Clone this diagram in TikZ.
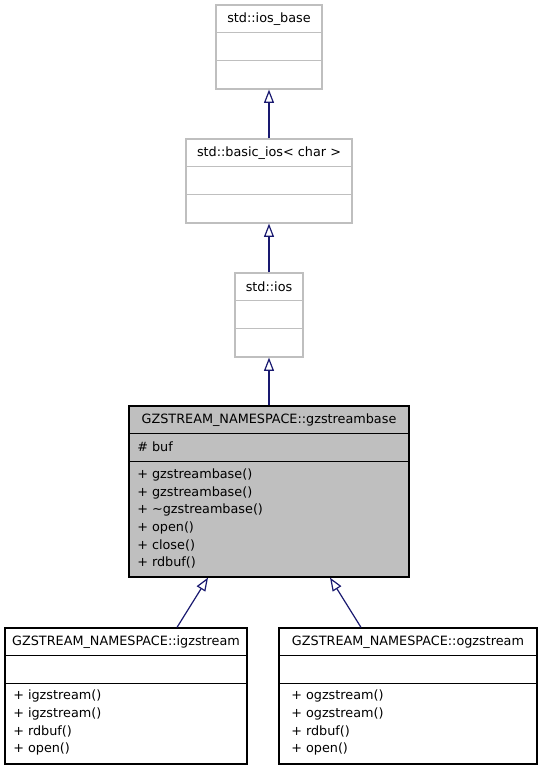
\documentclass[tikz,border=0pt]{standalone}
\usepackage{fontspec}
\setmainfont{DejaVu Sans}
\usetikzlibrary{arrows.meta}
\definecolor{edgeblue}{HTML}{191970}
\definecolor{lgray}{HTML}{BFBFBF}
\definecolor{fillgray}{HTML}{BFBFBF}
\begin{document}
\begin{tikzpicture}[x=0.75pt,y=-0.75pt,
  every node/.style={font=\fontsize{9.6}{11}\selectfont},
  extbox/.style={draw=lgray,fill=white,line width=0.9pt,inner sep=0pt,rectangle},
  mainbox/.style={draw=black,fill=fillgray,line width=0.9pt,inner sep=0pt,rectangle},
  leafbox/.style={draw=black,fill=white,line width=0.9pt,inner sep=0pt,rectangle},
  title/.style={anchor=center,inner sep=0pt},
  member/.style={anchor=west,inner sep=0pt},
  inherit/.style={draw=edgeblue,line width=0.9pt,-{Triangle[open,length=10pt,width=7.5pt]}}
]
\fill[white] (0,0) rectangle (541,771);
\useasboundingbox (0,0) rectangle (541,771);

% std::ios_base
\node[extbox,minimum width=79.5pt,minimum height=63pt] (iosbase) at (269,47) {};
\draw[lgray,line width=0.9pt] ([yshift=-21pt]iosbase.north west) -- ([yshift=-21pt]iosbase.north east);
\draw[lgray,line width=0.9pt] ([yshift=-42pt]iosbase.north west) -- ([yshift=-42pt]iosbase.north east);
\node[title] (tiosbase) at (269,19) {std::ios\_base};

% std::basic_ios< char >
\node[extbox,minimum width=124.5pt,minimum height=63pt] (basicios) at (269,181) {};
\draw[lgray,line width=0.9pt] ([yshift=-21pt]basicios.north west) -- ([yshift=-21pt]basicios.north east);
\draw[lgray,line width=0.9pt] ([yshift=-42pt]basicios.north west) -- ([yshift=-42pt]basicios.north east);
\node[title] (tbasicios) at (269,153) {std::basic\_ios< char >};

% std::ios
\node[extbox,minimum width=51pt,minimum height=63pt] (ios) at (269,315) {};
\draw[lgray,line width=0.9pt] ([yshift=-21pt]ios.north west) -- ([yshift=-21pt]ios.north east);
\draw[lgray,line width=0.9pt] ([yshift=-42pt]ios.north west) -- ([yshift=-42pt]ios.north east);
\node[title] (tios) at (269,287) {std::ios};

% gzstreambase
\node[mainbox,minimum width=210pt,minimum height=128.25pt] (gzb) at (269,491.5) {};
\draw[black,line width=0.9pt] ([yshift=-21pt]gzb.north west) -- ([yshift=-21pt]gzb.north east);
\draw[black,line width=0.9pt] ([yshift=-42pt]gzb.north west) -- ([yshift=-42pt]gzb.north east);
\node[title] (tgzb) at (269,420) {GZSTREAM\_NAMESPACE::gzstreambase};
\node[member] (gzb0) at (137,447) {\# buf};
\node[member] (gzb1) at (137,475) {+ gzstreambase()};
\node[member] (gzb2) at (137,492.5) {+ gzstreambase()};
\node[member] (gzb3) at (137,510) {+ \textasciitilde gzstreambase()};
\node[member] (gzb4) at (137,527.5) {+ open()};
\node[member] (gzb5) at (137,545) {+ close()};
\node[member] (gzb6) at (137,562.5) {+ rdbuf()};

% igzstream
\node[leafbox,minimum width=181.5pt,minimum height=102pt] (igz) at (126,696) {};
\draw[black,line width=0.9pt] ([yshift=-21pt]igz.north west) -- ([yshift=-21pt]igz.north east);
\draw[black,line width=0.9pt] ([yshift=-42pt]igz.north west) -- ([yshift=-42pt]igz.north east);
\node[title] (tigz) at (126,642) {GZSTREAM\_NAMESPACE::igzstream};
\node[member] (igz1) at (13,696) {+ igzstream()};
\node[member] (igz2) at (13,713.5) {+ igzstream()};
\node[member] (igz3) at (13,731) {+ rdbuf()};
\node[member] (igz4) at (13,748.5) {+ open()};

% ogzstream
\node[leafbox,minimum width=193.5pt,minimum height=102pt] (ogz) at (408,696) {};
\draw[black,line width=0.9pt] ([yshift=-21pt]ogz.north west) -- ([yshift=-21pt]ogz.north east);
\draw[black,line width=0.9pt] ([yshift=-42pt]ogz.north west) -- ([yshift=-42pt]ogz.north east);
\node[title] (togz) at (408,642) {GZSTREAM\_NAMESPACE::ogzstream};
\node[member] (ogz1) at (291,696) {+ ogzstream()};
\node[member] (ogz2) at (291,713.5) {+ ogzstream()};
\node[member] (ogz3) at (291,731) {+ rdbuf()};
\node[member] (ogz4) at (291,748.5) {+ open()};

% inheritance edges
\draw[inherit] (basicios.north) -- (iosbase.south);
\draw[inherit] (ios.north) -- (basicios.south);
\draw[inherit] (gzb.north) -- (ios.south);
\draw[inherit] ([xshift=38.25pt]igz.north) -- ([xshift=-45.75pt]gzb.south);
\draw[inherit] ([xshift=-35.25pt]ogz.north) -- ([xshift=45.75pt]gzb.south);
\end{tikzpicture}
\end{document}
